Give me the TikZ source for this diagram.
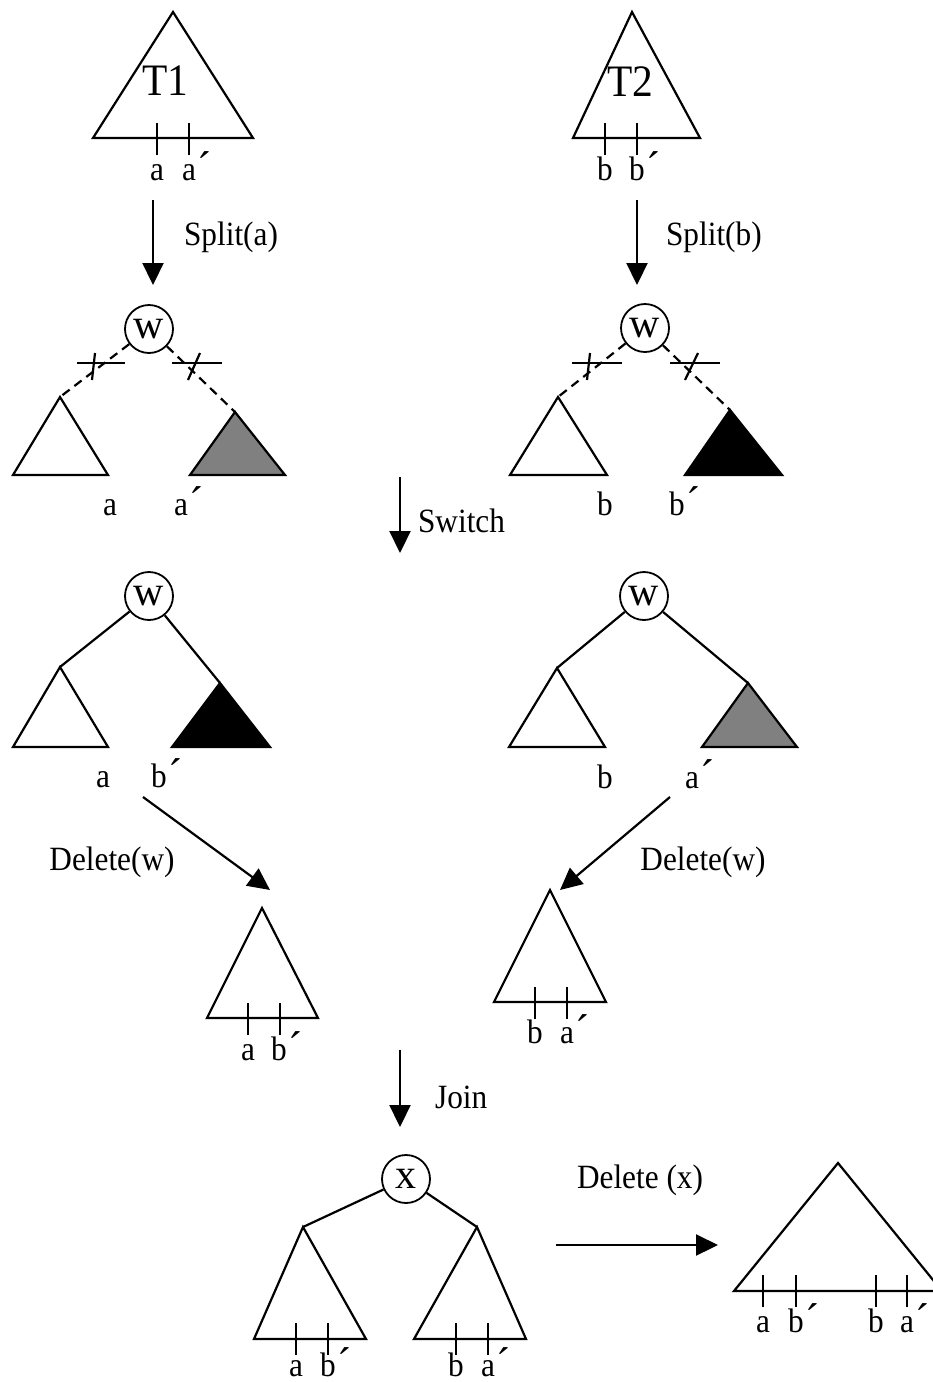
\documentclass[tikz,border=0pt]{standalone}
\usepackage{fontspec}
\setmainfont{Liberation Serif}[FakeStretch=0.92]
\newfontfamily\vtxfont{Liberation Serif}
\usetikzlibrary{arrows.meta}
% prime mark set after a leaf label without taking any room
\newcommand\primemark{\rlap{\smash{\kern0.04em\raisebox{-0.1em}{\scalebox{1.35}{´}}}}}
\begin{document}
\begin{tikzpicture}[x=1pt,y=-1pt,line width=2.2pt,
  lbl/.style={font=\fontsize{34}{38}\selectfont,anchor=base,inner sep=0pt},
  op/.style={font=\fontsize{34}{38}\selectfont,inner sep=0pt},
  big/.style={font=\fontsize{45}{48}\selectfont,anchor=base,inner sep=0pt},
  vtx/.style={circle,draw,line width=1.8pt,minimum size=48pt,inner sep=0pt,font=\vtxfont\fontsize{42}{44}\selectfont},
  arr/.style={-{Triangle[length=22pt,width=21pt]}},
  cut/.style={dash pattern=on 9pt off 6pt},
  tick/.style={line width=1.8pt}]
\useasboundingbox (0,0) rectangle (933,1382);
\clip (0,0) rectangle (933,1382);

% ---------- T1 and T2 ----------
\coordinate (t1) at (173,12);
\draw (t1) -- (253,138) -- (93,138) -- cycle;
\node[big] (t1name) at (165,95) {T1};
\draw[tick] (157,123) -- (157,155);
\draw[tick] (189,123) -- (189,155);
\node[lbl] (t1a) at (157,180) {a};
\node[lbl] (t1ap) at (189,180) {a\primemark};

\coordinate (t2) at (632,12);
\draw (t2) -- (700,138) -- (573,138) -- cycle;
\node[big] (t2name) at (630,96) {T2};
\draw[tick] (605,123) -- (605,155);
\draw[tick] (637,123) -- (637,155);
\node[lbl] (t2b) at (605,180) {b};
\node[lbl] (t2bp) at (637,180) {b\primemark};

% ---------- Split ----------
\coordinate (s1a) at (153,200);
\coordinate (s1b) at (153,285);
\draw[arr] (s1a) -- (s1b);
\node[op,anchor=base west] (split1) at (183,245) {Split(a)};
\coordinate (s2a) at (637,200);
\coordinate (s2b) at (637,285);
\draw[arr] (s2a) -- (s2b);
\node[op,anchor=base west] (split2) at (665,245) {Split(b)};

% ---------- after split, left ----------
\node[vtx] (w1) at (149,329) {w};
\coordinate (l1) at (60,397);
\draw (l1) -- (108,475) -- (13,475) -- cycle;
\coordinate (r1) at (235,412);
\draw[fill={rgb,255:red,128;green,128;blue,128}] (r1) -- (285,475) -- (190,475) -- cycle;
\draw[cut] (w1) -- (l1);
\draw[cut] (w1) -- (r1);
\draw (77,363) -- (125,363);
\draw (95,353) -- (92,380);
\draw (172,363) -- (222,363);
\draw (200,353) -- (188,380);
\node[lbl] (l1a) at (110,515) {a};
\node[lbl] (r1ap) at (181,515) {a\primemark};

% ---------- after split, right ----------
\node[vtx] (w2) at (645,328) {w};
\coordinate (l2) at (558,397);
\draw (l2) -- (607,475) -- (510,475) -- cycle;
\coordinate (r2) at (730,410);
\draw[fill=black] (r2) -- (782,475) -- (685,475) -- cycle;
\draw[cut] (w2) -- (l2);
\draw[cut] (w2) -- (r2);
\draw (572,363) -- (622,363);
\draw (590,353) -- (587,380);
\draw (670,363) -- (720,363);
\draw (698,353) -- (685,380);
\node[lbl] (l2b) at (605,515) {b};
\node[lbl] (r2bp) at (677,515) {b\primemark};

% ---------- Switch ----------
\coordinate (swa) at (400,477);
\coordinate (swb) at (400,553);
\draw[arr] (swa) -- (swb);
\node[op,anchor=base west] (switch) at (417,532) {Switch};

% ---------- after switch, left ----------
\node[vtx] (w3) at (149,596) {w};
\coordinate (l3) at (60,667);
\draw (l3) -- (108,747) -- (13,747) -- cycle;
\coordinate (r3) at (220,683);
\draw[fill=black] (r3) -- (270,747) -- (172,747) -- cycle;
\draw (w3) -- (l3);
\draw (w3) -- (r3);
\node[lbl] (l3a) at (103,787) {a};
\node[lbl] (r3bp) at (159,787) {b\primemark};

% ---------- after switch, right ----------
\node[vtx] (w4) at (644,596) {w};
\coordinate (l4) at (557,668);
\draw (l4) -- (605,747) -- (509,747) -- cycle;
\coordinate (r4) at (748,683);
\draw[fill={rgb,255:red,128;green,128;blue,128}] (r4) -- (797,747) -- (702,747) -- cycle;
\draw (w4) -- (l4);
\draw (w4) -- (r4);
\node[lbl] (l4b) at (605,788) {b};
\node[lbl] (r4ap) at (692,788) {a\primemark};

% ---------- Delete(w) ----------
\coordinate (d1a) at (143,797);
\coordinate (d1b) at (270,890);
\draw[arr] (d1a) -- (d1b);
\node[op] (del1) at (112,862) {Delete(w)};
\coordinate (d2a) at (670,797);
\coordinate (d2b) at (560,890);
\draw[arr] (d2a) -- (d2b);
\node[op] (del2) at (703,862) {Delete(w)};

% ---------- merged halves ----------
\coordinate (m1) at (262,908);
\draw (m1) -- (318,1018) -- (207,1018) -- cycle;
\draw[tick] (248,1003) -- (248,1035);
\draw[tick] (280,1003) -- (280,1035);
\node[lbl] (m1a) at (248,1060) {a};
\node[lbl] (m1bp) at (279,1060) {b\primemark};

\coordinate (m2) at (550,890);
\draw (m2) -- (606,1002) -- (494,1002) -- cycle;
\draw[tick] (535,987) -- (535,1019);
\draw[tick] (567,987) -- (567,1019);
\node[lbl] (m2b) at (535,1043) {b};
\node[lbl] (m2ap) at (567,1043) {a\primemark};

% ---------- Join ----------
\coordinate (ja) at (400,1050);
\coordinate (jb) at (400,1127);
\draw[arr] (ja) -- (jb);
\node[op,anchor=base west] (join) at (434,1108) {Join};

% ---------- joined tree ----------
\node[vtx,font=\vtxfont\fontsize{42}{44}\selectfont] (x) at (406,1179) {x};
\coordinate (j1) at (303,1227);
\draw (j1) -- (366,1339) -- (254,1339) -- cycle;
\coordinate (j2) at (477,1227);
\draw (j2) -- (526,1339) -- (414,1339) -- cycle;
\draw (x) -- (j1);
\draw (x) -- (j2);
\draw[tick] (296,1323) -- (296,1355);
\draw[tick] (328,1323) -- (328,1355);
\draw[tick] (456,1323) -- (456,1355);
\draw[tick] (488,1323) -- (488,1355);
\node[lbl] (j1a) at (296,1376) {a};
\node[lbl] (j1bp) at (328,1376) {b\primemark};
\node[lbl] (j2b) at (456,1376) {b};
\node[lbl] (j2ap) at (488,1376) {a\primemark};

% ---------- Delete (x) ----------
\coordinate (dxa) at (556,1245);
\coordinate (dxb) at (718,1245);
\draw[arr] (dxa) -- (dxb);
\node[op] (delx) at (640,1180) {Delete (x)};

% ---------- final tree ----------
\coordinate (f) at (838,1163);
\draw (f) -- (942,1291) -- (734,1291) -- cycle;
\draw[tick] (763,1275) -- (763,1307);
\draw[tick] (796,1275) -- (796,1307);
\draw[tick] (876,1275) -- (876,1307);
\draw[tick] (907,1275) -- (907,1307);
\node[lbl] (fa) at (763,1332) {a};
\node[lbl] (fbp) at (796,1332) {b\primemark};
\node[lbl] (fb) at (876,1332) {b};
\node[lbl] (fap) at (907,1332) {a\primemark};
\end{tikzpicture}
\end{document}
